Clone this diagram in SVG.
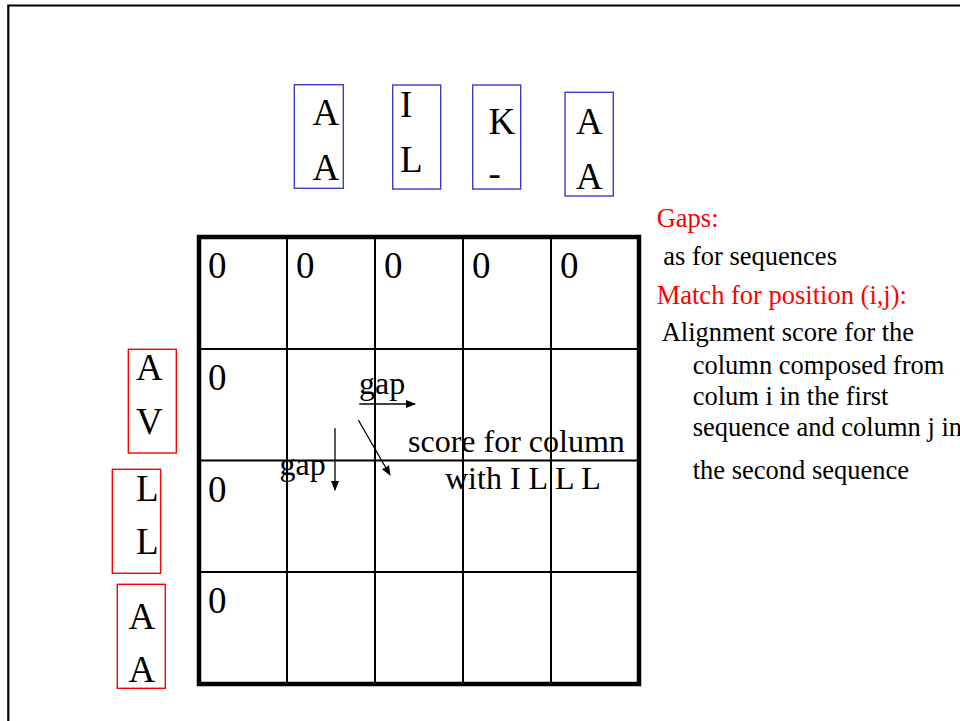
<svg xmlns="http://www.w3.org/2000/svg" width="960" height="721" viewBox="0 0 960 721">
<defs>
<style>
.t{font-family:"Liberation Serif","Times New Roman",serif;fill:#000}
.big{font-size:37px}
.mid{font-size:32px}
.sm{font-size:26.5px}
.red{fill:#ff0000}
.bb{fill:#fff;stroke:#3c3cd0;stroke-width:1.4}
.rb{fill:#fff;stroke:#ff0000;stroke-width:1.4}
.g{stroke:#000;stroke-width:2;fill:none}
.ar{stroke:#000;stroke-width:1.3;fill:none}
</style>
<marker id="ah" markerWidth="10" markerHeight="8" refX="9" refY="4" orient="auto" markerUnits="userSpaceOnUse">
<path d="M0,0 L10,4 L0,8 Z" fill="#000"/>
</marker>
</defs>
<rect width="960" height="721" fill="#fff"/>
<g id="frame">
<path d="M8.3,721 V5.5 H960" stroke="#000" stroke-width="2.2" fill="none"/>
</g>
<g id="grid">
<rect x="199" y="237" width="440" height="447" fill="none" stroke="#000" stroke-width="4.5"/>
<path class="g" d="M287,237 V684 M375,237 V684 M463,237 V684 M551,237 V684 M199,349 H639 M199,460.5 H639 M199,572 H639"/>
<text class="t big" x="208" y="278">0</text>
<text class="t big" x="296" y="278">0</text>
<text class="t big" x="384" y="278">0</text>
<text class="t big" x="472" y="278">0</text>
<text class="t big" x="560" y="278">0</text>
<text class="t big" x="208" y="390">0</text>
<text class="t big" x="208" y="502">0</text>
<text class="t big" x="208" y="613">0</text>
</g>
<g id="seq-top-1">
<rect class="bb" x="294.3" y="84.7" width="49" height="103.6"/>
<text class="t big" x="312.5" y="125">A</text>
<text class="t big" x="312.5" y="180">A</text>
</g>
<g id="seq-top-2">
<rect class="bb" x="392.7" y="85" width="48" height="104"/>
<text class="t big" x="400" y="117">I</text>
<text class="t big" x="400" y="172">L</text>
</g>
<g id="seq-top-3">
<rect class="bb" x="472.7" y="85" width="48" height="104"/>
<text class="t big" x="488.5" y="133.5">K</text>
<text class="t big" x="488.5" y="186">-</text>
</g>
<g id="seq-top-4">
<rect class="bb" x="565" y="92.3" width="48.3" height="103.7"/>
<text class="t big" x="576" y="133.5">A</text>
<text class="t big" x="576" y="188.5">A</text>
</g>
<g id="seq-left-1">
<rect class="rb" x="128.3" y="349.3" width="48" height="103.7"/>
<text class="t big" x="136" y="380">A</text>
<text class="t big" x="136" y="433.5">V</text>
</g>
<g id="seq-left-2">
<rect class="rb" x="112.3" y="469.3" width="48.3" height="104"/>
<text class="t big" x="136" y="501">L</text>
<text class="t big" x="136" y="554">L</text>
</g>
<g id="seq-left-3">
<rect class="rb" x="117.3" y="584.3" width="48" height="104"/>
<text class="t big" x="128.5" y="628.5">A</text>
<text class="t big" x="128.5" y="682">A</text>
</g>
<g id="connectors">
<line class="ar" x1="359.3" y1="404" x2="415" y2="404" marker-end="url(#ah)"/>
<line class="ar" x1="335" y1="428.3" x2="335" y2="490" marker-end="url(#ah)"/>
<line class="ar" x1="358.3" y1="420" x2="390" y2="475" marker-end="url(#ah)"/>
</g>
<g id="labels">
<text class="t mid" x="359" y="394">gap</text>
<text class="t mid" x="279.5" y="475">gap</text>
<text class="t mid" x="408" y="452">score for column</text>
<text class="t mid" x="445" y="488.5">with I L L L</text>
</g>
<g id="notes">
<text class="t sm red" x="656.7" y="226.5">Gaps:</text>
<text class="t sm" x="663.3" y="264.5">as for sequences</text>
<text class="t sm red" x="656.7" y="304">Match for position (i,j):</text>
<text class="t sm" x="661.7" y="340.5">Alignment score for the</text>
<text class="t sm" x="692.7" y="373.5">column composed from</text>
<text class="t sm" x="692.7" y="404.5">colum i in the first</text>
<text class="t sm" x="692.7" y="435.5">sequence and column j in</text>
<text class="t sm" x="692.7" y="479">the second sequence</text>
</g>
</svg>
